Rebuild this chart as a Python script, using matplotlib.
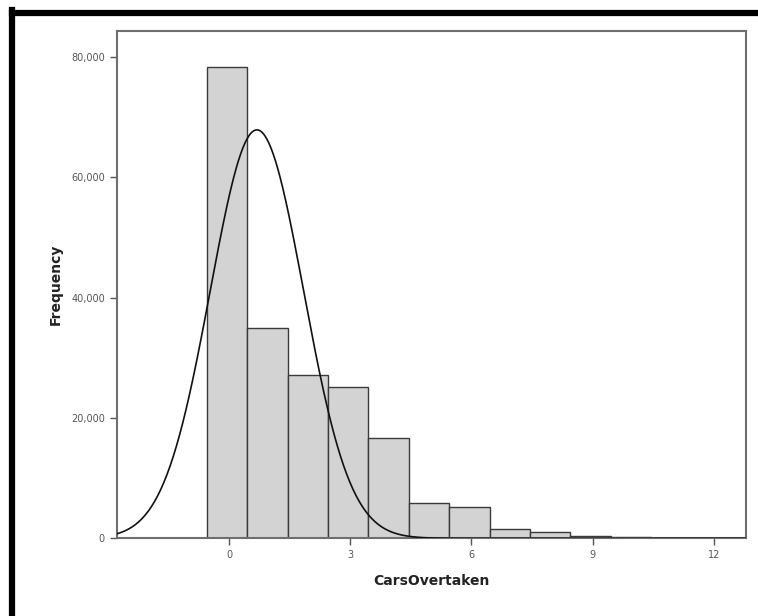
import numpy as np
import matplotlib
matplotlib.use("Agg")
import matplotlib.pyplot as plt
from matplotlib.lines import Line2D
from matplotlib.ticker import FuncFormatter

# histogram of CarsOvertaken (bin centres and counts)
bin_centers = [0, 1, 2, 3, 4, 5, 6, 7, 8, 9, 10]
counts = [78300, 34900, 27150, 25200, 16630, 5920, 5250, 1500, 1000, 430, 150]

# normal curve overlay (SPSS style)
curve_mean = 0.69
curve_sd = 1.155
n_total = sum(counts)

x_ticks = [0, 3, 6, 9, 12]
y_ticks = [0, 20000, 40000, 60000, 80000]

fig = plt.figure(figsize=(7.58, 6.16), dpi=100)
ax = fig.add_axes([0.154, 0.1261, 0.8298, 0.8236])

# bars
ax.bar(np.array(bin_centers) - 0.05, counts, width=1.0, color="#d3d3d3",
       edgecolor="#3a3a3a", linewidth=1.0, zorder=2)

# normal curve
xs = np.linspace(-2.78, 12.79, 600)
ys = n_total / (curve_sd * np.sqrt(2 * np.pi)) * np.exp(-0.5 * ((xs - curve_mean) / curve_sd) ** 2)
ax.plot(xs, ys, color="#111111", linewidth=1.2, zorder=3)

ax.set_xlim(-2.78, 12.79)
ax.set_ylim(0, 84270)
ax.set_xticks(x_ticks)
ax.set_yticks(y_ticks)
ax.yaxis.set_major_formatter(FuncFormatter(lambda v, p: f"{int(v):,}"))

for s in ax.spines.values():
    s.set_color("#6e6e6e")
    s.set_linewidth(1.5)
ax.tick_params(direction="out", length=5, width=1, color="#555555",
               labelcolor="#555555", labelsize=7)

ax.set_xlabel("CarsOvertaken", fontsize=10, fontweight="bold", color="#222222", labelpad=10)
ax.set_ylabel("Frequency", fontsize=10, fontweight="bold", color="#222222", labelpad=6)

# thick black frame on top and left (cropped screenshot border)
fig.add_artist(Line2D([12 / 758, 12 / 758], [0, 1 - 10 / 616], color="black", linewidth=4.5,
                      transform=fig.transFigure, solid_capstyle="projecting"))
fig.add_artist(Line2D([12 / 758, 1], [1 - 13 / 616, 1 - 13 / 616], color="black", linewidth=4.5,
                      transform=fig.transFigure, solid_capstyle="projecting"))

fig.savefig("out.png", dpi=100)
